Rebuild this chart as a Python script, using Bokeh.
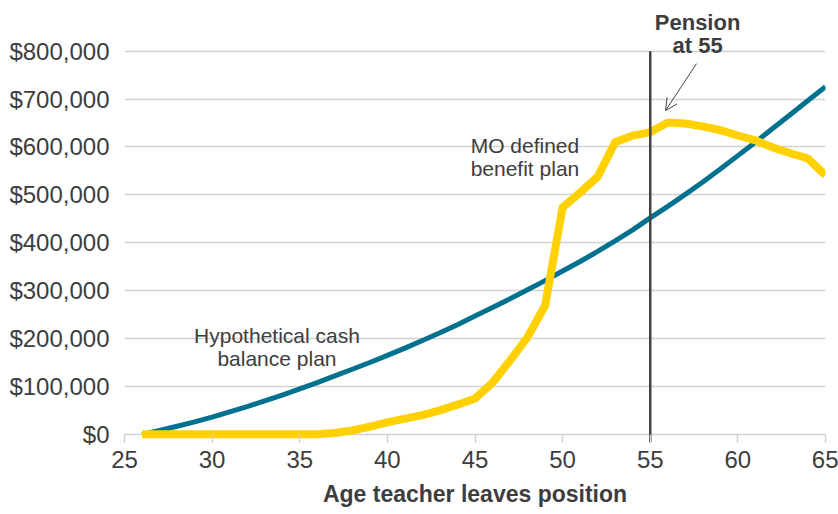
from bokeh.plotting import figure
from bokeh.models import (Range1d, FixedTicker, NumeralTickFormatter, Label, Arrow,
                          OpenHead, ColumnDataSource)
from bokeh.embed import file_html
from bokeh.resources import INLINE

# ---- data (values in thousands of dollars) ----
ages = list(range(26, 66))
cash_balance_k = [0, 8, 17, 26, 36, 47, 58, 70, 82, 95,
                  108, 122, 136, 150, 165, 180, 196, 212, 229, 247,
                  265, 283, 302, 321, 341, 361, 382, 404, 427, 452,
                  476, 501, 527, 554, 582, 610, 639, 668, 697, 726]
mo_defined_k = [0, 0, 0, 0, 0, 0, 0, 0, 0, 0,
                0, 3, 8, 16, 25, 33, 40, 50, 62, 75,
                108, 154, 203, 269, 474, 505, 538, 610, 624, 631,
                651, 649, 643, 635, 624, 614, 599, 587, 576, 541]
cash_balance = [v * 1000 for v in cash_balance_k]
mo_defined = [v * 1000 for v in mo_defined_k]

x_ticks = [25, 30, 35, 40, 45, 50, 55, 60, 65]
y_ticks = [0, 100000, 200000, 300000, 400000, 500000, 600000, 700000, 800000]
pension_age = 55

TEXT = "#3d3d3d"
GRID = "#d2d2d2"
BLUE = "#00718f"
YELLOW = "#ffd100"
FONT = "Liberation Sans"

p = figure(width=838, height=514, output_backend="svg", toolbar_location=None,
           x_range=Range1d(25, 65), y_range=Range1d(-17000, 885000),
           min_border_left=124, min_border_right=13, min_border_top=10,
           min_border_bottom=72)
p.outline_line_color = None
p.background_fill_color = "white"
p.border_fill_color = "white"

# x axis (sits at the bottom of the frame; the $0 grid line acts as baseline)
xa = p.xaxis[0]
xa.ticker = FixedTicker(ticks=x_ticks)
xa.axis_line_color = None
xa.major_tick_line_color = GRID
xa.major_tick_line_width = 1.5
xa.major_tick_in = 8
xa.major_tick_out = 0
xa.minor_tick_line_color = None
xa.major_label_text_font = FONT
xa.major_label_text_font_size = "24px"
xa.major_label_text_color = TEXT
xa.major_label_standoff = 8
xa.axis_label = "Age teacher leaves position"
xa.axis_label_text_font = FONT
xa.axis_label_text_font_style = "bold"
xa.axis_label_text_font_size = "23px"
xa.axis_label_text_color = TEXT
xa.axis_label_standoff = 10

# y axis
ya = p.yaxis[0]
ya.ticker = FixedTicker(ticks=y_ticks)
ya.formatter = NumeralTickFormatter(format="$0,0")
ya.axis_line_color = None
ya.major_tick_line_color = None
ya.minor_tick_line_color = None
ya.major_label_text_font = FONT
ya.major_label_text_font_size = "24px"
ya.major_label_text_color = TEXT
ya.major_label_standoff = 9

p.xgrid.grid_line_color = None
p.ygrid.grid_line_color = GRID
p.ygrid.grid_line_width = 1.5

src = ColumnDataSource(dict(age=ages, cash=cash_balance, mo=mo_defined))
p.line("age", "cash", source=src, line_color=BLUE, line_width=5)
p.line("age", "mo", source=src, line_color=YELLOW, line_width=8, line_join="miter")

# vertical marker at pension age
p.segment(x0=[pension_age], y0=[-17000], x1=[pension_age], y1=[800000],
          line_color="#444444", line_width=2.5)

# annotations
def lab(x, y, t, bold=False, size="21px"):
    p.add_layout(Label(x=x, y=y, text=t, text_align="center", text_baseline="middle",
                       text_font=FONT, text_font_size=size, text_color=TEXT,
                       text_font_style="bold" if bold else "normal"))

lab(57.7, 860000, "Pension", bold=True, size="22px")
lab(57.7, 812000, "at 55", bold=True, size="22px")
lab(47.85, 603000, "MO defined")
lab(47.85, 555000, "benefit plan")
lab(33.7, 207000, "Hypothetical cash")
lab(33.7, 159000, "balance plan")

p.add_layout(Arrow(end=OpenHead(size=12, line_color="#444444", line_width=1),
                   x_start=57.64, y_start=774000, x_end=55.87, y_end=676000,
                   line_color="#444444", line_width=1))

open("out.html", "w").write(file_html(p, INLINE))
